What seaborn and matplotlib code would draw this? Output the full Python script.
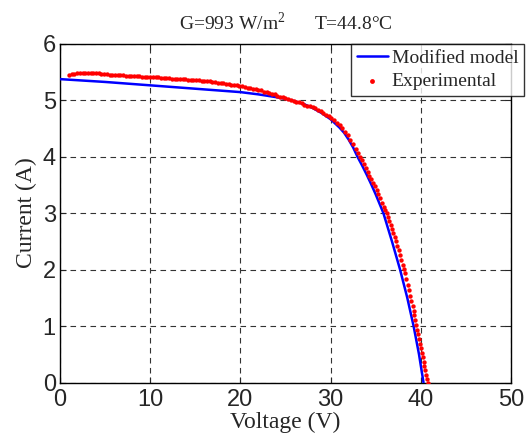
import numpy as np
import pandas as pd
import matplotlib
matplotlib.use('Agg')
import matplotlib.pyplot as plt
import seaborn as sns

# Modified model curve
v_model = [0, 5, 10, 15, 20, 22, 24, 25, 26, 27, 28, 29, 30, 31, 31.5, 32, 32.5, 33, 33.5,
           34, 34.5, 35, 35.85, 36.8, 37.7, 38.5, 39.2, 39.8, 40.3]
i_model = [5.37, 5.32, 5.26, 5.20, 5.14, 5.10, 5.05, 5.02, 4.98, 4.93, 4.86, 4.77,
           4.66, 4.51, 4.42, 4.30, 4.16, 3.99, 3.84, 3.68, 3.51, 3.33, 3.00, 2.50,
           2.00, 1.50, 1.00, 0.50, 0.00]

# Experimental points
v_exp = [1.0, 1.3, 1.6, 1.9, 2.2, 2.5, 2.8, 3.1, 3.4, 3.7, 4.0, 4.3, 4.6, 4.9, 5.2,
         5.5, 5.8, 6.1, 6.4, 6.7, 7.0, 7.3, 7.6, 7.9, 8.2, 8.5, 8.8, 9.1, 9.4, 9.7,
         10.0, 10.3, 10.6, 10.9, 11.2, 11.5, 11.8, 12.1, 12.4, 12.7, 13.0, 13.3, 13.6,
         13.9, 14.2, 14.5, 14.8, 15.1, 15.4, 15.7, 16.0, 16.3, 16.6, 16.9, 17.2, 17.5,
         17.8, 18.1, 18.4, 18.7, 19.0, 19.3, 19.6, 19.9, 20.2, 20.5, 20.8, 21.1, 21.4,
         21.7, 22.0, 22.3, 22.6, 22.9, 23.2, 23.5, 23.8, 24.1, 24.4, 24.7, 25.0, 25.3,
         25.6, 25.9, 26.2, 26.5, 26.8, 27.1, 27.4, 27.7, 28.0, 28.3, 28.6, 28.9, 29.2,
         29.5, 29.8, 30.1, 30.4, 30.7, 31.0, 31.3, 31.6, 31.9, 32.2, 32.5, 32.8, 33.0,
         33.25, 33.5, 33.7, 33.9, 34.1, 34.3, 34.5, 34.7, 34.9, 35.1, 35.3, 35.5, 35.7,
         35.9, 36.05, 36.2, 36.35, 36.5, 36.65, 36.8, 36.95, 37.1, 37.25, 37.4, 37.55,
         37.7, 37.85, 38.0, 38.1, 38.25, 38.4, 38.55, 38.7, 38.85, 38.95, 39.1, 39.2,
         39.3, 39.4, 39.5, 39.6, 39.7, 39.8, 39.9, 40.0, 40.1, 40.2, 40.3, 40.4, 40.5,
         40.6, 40.7, 40.8]
i_exp = [5.45, 5.46, 5.46, 5.47, 5.47, 5.47, 5.47, 5.47, 5.47, 5.47, 5.47, 5.47, 5.46,
         5.46, 5.46, 5.45, 5.45, 5.45, 5.44, 5.44, 5.44, 5.43, 5.43, 5.43, 5.42, 5.42,
         5.42, 5.41, 5.41, 5.41, 5.40, 5.40, 5.40, 5.40, 5.39, 5.39, 5.39, 5.39, 5.38,
         5.38, 5.38, 5.37, 5.37, 5.37, 5.36, 5.36, 5.36, 5.35, 5.35, 5.34, 5.34, 5.33,
         5.33, 5.32, 5.32, 5.31, 5.30, 5.30, 5.29, 5.28, 5.27, 5.27, 5.26, 5.25, 5.24,
         5.23, 5.22, 5.21, 5.20, 5.19, 5.18, 5.17, 5.15, 5.14, 5.13, 5.11, 5.10, 5.08,
         5.06, 5.05, 5.04, 5.02, 5.00, 4.99, 4.97, 4.96, 4.94, 4.92, 4.90, 4.89, 4.87,
         4.85, 4.82, 4.80, 4.77, 4.74, 4.71, 4.68, 4.64, 4.60, 4.55, 4.50, 4.44, 4.38,
         4.30, 4.22, 4.14, 4.07, 4.00, 3.93, 3.86, 3.80, 3.73, 3.66, 3.60, 3.53, 3.47,
         3.40, 3.33, 3.26, 3.18, 3.11, 3.05, 3.00, 2.93, 2.86, 2.79, 2.71, 2.64, 2.57,
         2.50, 2.42, 2.34, 2.26, 2.17, 2.08, 2.01, 1.93, 1.83, 1.73, 1.63, 1.53, 1.45,
         1.35, 1.27, 1.19, 1.10, 1.01, 0.93, 0.85, 0.77, 0.69, 0.61, 0.53, 0.45, 0.37,
         0.29, 0.22, 0.14, 0.07, 0.00]

x_ticks = [0, 10, 20, 30, 40, 50]
y_ticks = [0, 1, 2, 3, 4, 5, 6]

df_model = pd.DataFrame({'Voltage': v_model, 'Current': i_model})
df_exp = pd.DataFrame({'Voltage': v_exp, 'Current': i_exp})

sns.set_style('ticks')
serif = ['Liberation Serif', 'DejaVu Serif']
sans = ['Liberation Sans', 'DejaVu Sans']
plt.rcParams['mathtext.fontset'] = 'custom'
plt.rcParams['mathtext.rm'] = 'Liberation Serif'

fig = plt.figure(figsize=(5.28, 4.37), dpi=100)
ax = fig.add_axes([0.1136, 0.1247, 0.8542, 0.7757])

sns.lineplot(x='Voltage', y='Current', data=df_model, color='#0000ff', lw=1.8,
             sort=False, estimator=None, ax=ax, label='Modified model', zorder=3)
sns.scatterplot(x='Voltage', y='Current', data=df_exp, color='#ff0000', s=10,
                linewidth=0, ax=ax, label='Experimental', zorder=4)

ax.set_xlim(0, 50)
ax.set_ylim(0, 6)
ax.set_xticks(x_ticks)
ax.set_yticks(y_ticks)
ax.grid(True, linestyle=(0, (5, 4)), color='#333333', lw=0.8)
ax.tick_params(direction='in', top=True, right=True, length=4, width=0.8,
               labelsize=17)
ax.tick_params(axis='x', pad=5)
ax.tick_params(axis='y', pad=3)
for lab in ax.get_xticklabels() + ax.get_yticklabels():
    lab.set_family(sans)
for s in ax.spines.values():
    s.set_color('black')
    s.set_linewidth(1.0)

ax.set_xlabel('Voltage (V)', family=serif, fontsize=17, labelpad=0)
ax.set_ylabel('Current (A)', family=serif, fontsize=17, labelpad=4)
ax.set_title('G=993 W/m$^\\mathregular{2}$      T=44.8°C', family=serif,
             fontsize=14, pad=10)

leg = ax.legend(loc='upper left', bbox_to_anchor=(0.645, 1.0), frameon=True,
                fancybox=False, borderaxespad=0,
                prop={'family': serif, 'size': 14}, handlelength=1.6,
                handletextpad=0.2, borderpad=0.3, labelspacing=0.3, markerscale=1.1)
leg.get_frame().set_edgecolor('black')
leg.get_frame().set_linewidth(1.0)

fig.savefig('out.png', dpi=100)
